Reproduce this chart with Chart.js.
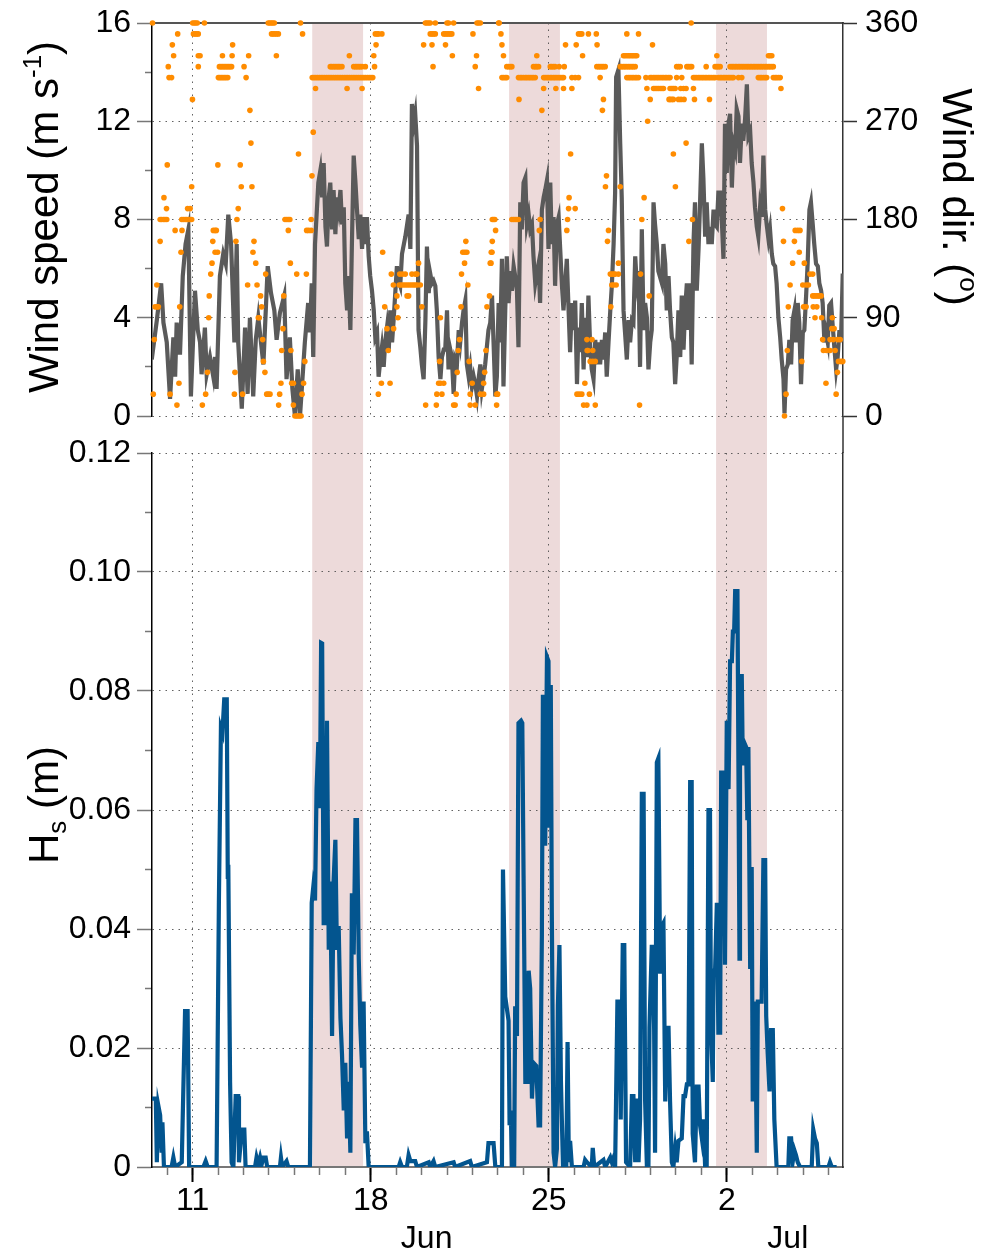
<!DOCTYPE html>
<html>
<head>
<meta charset="utf-8">
<script src="https://cdn.jsdelivr.net/npm/chart.js@4.4.1/dist/chart.umd.min.js"></script>
<style>
  body { margin: 0; background: #fff; }
  #wrap { position: relative; width: 994px; height: 1253px; }
  canvas { position: absolute; left: 0; }
</style>
</head>
<body>
<div id="wrap">
  <canvas id="windChart" width="994" height="440" style="top:0;width:994px;height:440px"></canvas>
  <canvas id="waveChart" width="994" height="813" style="top:440px;width:994px;height:813px"></canvas>
</div>
<script>
// time axis: day of June (32 = 2 Jul)
const dateTicks = [11, 18, 25, 32];
const dateLabels = ['11', '18', '25', '2'];
const monthLabels = ['Jun', 'Jul'];
const monthAt = [20.2, 34.4];
const dayMinor = [10, 11, 12, 13, 14, 15, 16, 17, 18, 19, 20, 21, 22, 23, 24, 25, 26, 27, 28, 29, 30, 31, 32, 33, 34, 35, 36];

const speedTicks = [0, 4, 8, 12, 16];
const speedMinor = [2, 6, 10, 14];
const dirTicks = [0, 90, 180, 270, 360];
const hsTicks = [0, 0.02, 0.04, 0.06, 0.08, 0.1, 0.12];
const hsMinor = [0.01, 0.03, 0.05, 0.07, 0.09, 0.11];

// shaded storm periods [start, end]
const storms = [[15.70, 17.70], [23.44, 25.44], [31.58, 33.58]];

// wind speed (m/s): [day, value]
const windSpeed = [
  [9.39,2.3],[9.59,3.9],[9.76,5.4],[9.85,3.8],[9.98,3.0],[10.11,0.7],[10.24,3.2],[10.31,1.6],[10.37,3.8],[10.50,2.5],
  [10.61,5.7],[10.72,7.0],[10.83,7.6],[10.93,0.8],[11.09,5.1],[11.20,3.5],[11.29,3.0],[11.35,1.7],[11.48,3.6],[11.55,1.7],
  [11.68,2.4],[11.81,1.6],[11.88,2.4],[11.94,1.1],[12.07,5.7],[12.20,6.6],[12.30,6.2],[12.40,8.2],[12.51,7.0],[12.64,3.0],
  [12.73,7.0],[12.79,3.0],[12.93,0.3],[13.06,3.6],[13.16,0.9],[13.25,4.0],[13.38,0.8],[13.48,3.1],[13.58,4.0],[13.78,2.1],
  [13.95,6.1],[14.08,5.0],[14.21,4.3],[14.30,3.1],[14.43,4.2],[14.60,4.9],[14.69,1.5],[14.82,3.2],[14.92,1.1],[15.02,0.0],
  [15.13,1.9],[15.22,0.0],[15.41,3.0],[15.54,4.6],[15.61,3.4],[15.68,5.4],[15.74,2.4],[15.81,7.0],[15.94,9.5],
  [16.02,10.0],[16.09,8.9],[16.15,10.3],[16.22,7.7],[16.28,6.9],[16.35,8.9],[16.41,9.5],[16.48,7.6],[16.54,9.2],[16.61,7.4],
  [16.67,8.9],[16.74,8.4],[16.81,9.2],[16.87,7.8],[16.94,8.5],[17.00,5.4],[17.07,4.3],[17.13,5.7],[17.20,3.5],[17.26,7.0],
  [17.33,10.6],[17.40,9.5],[17.46,8.4],[17.53,7.2],[17.59,8.2],[17.66,6.8],[17.72,8.1],[17.79,7.0],[17.85,8.1],[17.92,6.5],
  [17.98,5.7],[18.05,5.1],[18.12,4.3],[18.18,3.2],[18.25,3.4],[18.31,1.6],[18.38,2.3],[18.44,2.8],[18.51,2.0],[18.57,3.0],
  [18.64,3.6],[18.71,2.7],[18.77,4.3],[18.84,3.0],[18.90,3.9],[19.03,6.1],[19.10,5.5],[19.16,5.3],[19.23,6.6],[19.36,7.3],
  [19.49,8.2],[19.56,6.8],[19.62,12.7],[19.69,11.9],[19.75,12.3],[19.82,11.0],[19.88,3.5],[19.95,2.8],[20.01,2.1],[20.08,1.5],
  [20.15,3.9],[20.21,6.9],[20.28,5.0],[20.34,5.8],[20.41,5.4],[20.47,5.5],[20.54,5.3],[20.60,4.3],[20.67,2.4],[20.74,1.5],
  [20.80,2.4],[20.87,2.7],[20.93,2.7],[21.00,4.3],[21.06,1.9],[21.13,2.7],[21.19,2.4],[21.26,0.9],[21.32,2.3],[21.39,2.1],
  [21.46,3.5],[21.52,3.0],[21.59,3.8],[21.65,4.3],[21.72,4.7],[21.78,2.1],[21.85,1.6],[21.91,2.0],[21.98,1.2],[22.05,1.6],
  [22.11,1.3],[22.18,0.8],[22.24,1.5],[22.31,2.1],[22.37,1.1],[22.44,1.6],[22.50,2.1],[22.63,3.5],[22.70,3.8],
  [22.77,4.9],[22.83,3.0],[22.90,0.8],[22.96,1.6],[23.03,4.6],[23.09,3.0],[23.16,6.4],[23.22,1.2],[23.29,4.3],[23.35,6.5],
  [23.42,4.6],[23.49,5.9],[23.55,5.1],[23.62,6.1],[23.68,5.7],[23.75,5.1],[23.81,2.8],[23.88,8.7],[23.94,7.6],[24.01,9.5],
  [24.08,9.7],[24.14,7.8],[24.21,8.2],[24.27,7.6],[24.34,7.8],[24.40,6.5],[24.47,5.4],[24.53,5.8],[24.60,6.2],[24.66,4.6],
  [24.73,8.4],[24.80,8.9],[24.86,9.2],[24.93,9.6],[24.99,6.8],[25.06,9.5],[25.12,7.0],[25.19,8.1],[25.25,5.3],[25.32,7.8],
  [25.39,8.1],[25.45,6.8],[25.52,5.3],[25.58,4.3],[25.71,6.4],[25.78,4.3],[25.84,2.6],[25.91,4.6],[25.97,3.5],[26.04,4.7],
  [26.11,1.3],[26.17,3.6],[26.24,2.6],[26.30,4.6],[26.37,1.9],[26.43,4.0],[26.50,2.4],[26.56,4.9],[26.63,2.8],[26.69,1.9],
  [26.76,1.5],[26.83,3.1],[26.89,2.1],[26.96,3.0],[27.02,2.1],[27.09,3.1],[27.15,2.3],[27.22,3.4],[27.28,1.6],[27.35,3.0],
  [27.42,4.3],[27.48,5.3],[27.55,7.0],[27.61,9.1],[27.65,13.8],[27.74,14.1],[27.81,11.1],[27.87,8.9],[27.94,4.3],[28.00,3.4],
  [28.07,2.3],[28.14,3.9],[28.20,3.0],[28.27,3.9],[28.33,3.8],[28.40,6.5],[28.46,5.4],[28.53,5.9],[28.59,2.0],[28.66,7.6],
  [28.73,3.5],[28.79,4.6],[28.86,4.0],[28.92,1.9],[28.99,3.0],[29.05,3.5],[29.12,8.7],[29.18,7.8],[29.25,7.0],[29.31,5.9],
  [29.45,5.4],[29.51,7.0],[29.58,6.2],[29.64,4.3],[29.71,5.7],[29.77,4.3],[29.84,3.2],[29.90,3.0],[29.97,1.3],[30.03,2.4],
  [30.10,4.3],[30.17,2.4],[30.23,4.9],[30.30,2.7],[30.36,4.3],[30.43,5.4],[30.49,3.5],[30.56,5.4],[30.62,2.1],[30.69,7.0],
  [30.75,8.7],[30.82,5.1],[30.89,6.8],[30.95,8.7],[31.02,11.1],[31.08,9.7],[31.15,7.3],[31.21,8.7],[31.28,7.0],[31.34,7.7],
  [31.41,7.0],[31.48,8.4],[31.54,7.8],[31.61,7.7],[31.67,9.1],[31.74,9.1],[31.80,8.1],[31.87,6.4],[31.93,11.9],[32.00,9.9],
  [32.07,11.9],[32.13,12.3],[32.20,9.3],[32.26,11.1],[32.33,10.8],[32.39,12.5],[32.46,12.2],[32.52,10.3],[32.59,11.9],[32.65,11.2],
  [32.72,12.1],[32.79,13.5],[32.85,11.4],[32.92,11.6],[32.98,10.3],[33.05,9.5],[33.11,8.5],[33.18,7.7],[33.24,7.3],[33.31,8.5],
  [33.37,8.1],[33.44,10.6],[33.51,8.4],[33.57,7.8],[33.64,7.2],[33.70,7.6],[33.77,6.6],[33.83,6.2],[33.90,6.1],[33.96,5.4],
  [34.03,4.0],[34.10,3.2],[34.16,2.3],[34.23,1.5],[34.27,0.1],[34.33,1.9],[34.40,2.1],[34.46,3.1],[34.53,2.1],[34.59,3.9],
  [34.66,4.3],[34.72,3.0],[34.79,4.6],[34.85,3.8],[34.92,1.3],[34.99,3.4],[35.05,3.5],[35.12,4.9],[35.18,6.2],[35.25,8.4],
  [35.31,8.7],[35.38,7.8],[35.44,7.0],[35.51,6.2],[35.58,6.1],[35.64,5.4],[35.71,5.1],[35.77,4.6],[35.84,3.0],[35.90,3.4],
  [35.97,3.0],[36.03,4.5],[36.10,4.6],[36.17,3.6],[36.23,2.8],[36.30,1.9],[36.36,2.4],[36.43,3.5],[36.49,3.0],[36.56,5.8]
];

// wind direction (deg): each row is one 10-degree bin and the days it was observed
const windDirRows = [
  [360, [9.42,11.00,11.06,11.12,11.18,11.46,13.97,14.03,14.09,14.15,14.21,15.24,20.15,20.21,20.28,20.34,20.54,21.00,21.06,21.26,22.18,22.24,22.31,23.03,23.05,30.60]],
  [350, [10.41,11.03,11.10,11.16,11.22,14.10,14.16,14.23,14.30,14.37,15.32,18.18,18.25,18.31,18.44,20.34,20.41,20.47,20.54,20.87,20.93,21.00,21.06,21.13,21.19,22.02,23.12,26.17,26.24,26.30,26.56,26.87,28.07,28.53]],
  [340, [10.20,12.57,18.21,20.08,20.41,20.94,23.16,25.66,26.08,26.90,29.08]],
  [330, [10.25,11.22,11.29,12.17,12.55,13.20,14.29,17.16,18.12,21.21,22.16,23.22,24.53,26.33,27.94,28.00,28.07,28.14,28.20,28.27,28.33,28.40,28.46,31.61,33.64,33.70,33.77]],
  [320, [10.04,11.22,12.05,12.11,12.17,12.23,12.29,12.35,12.41,12.47,12.53,13.02,16.41,16.47,16.54,16.60,16.67,16.73,16.79,16.87,17.33,17.40,17.46,17.53,17.59,17.66,17.79,18.15,20.45,22.11,
         23.35,23.42,23.49,23.55,24.40,24.47,24.53,24.60,25.06,25.12,25.19,25.25,25.41,25.61,26.89,26.96,27.02,27.09,27.15,27.22,27.81,27.87,27.94,28.00,28.07,28.14,28.20,28.27,28.33,28.40,
         30.03,30.10,30.17,30.43,30.49,30.56,30.62,31.19,31.54,31.61,31.67,31.74,32.13,32.20,32.26,32.33,32.39,32.46,32.52,32.59,32.65,32.72,32.79,32.85,32.92,32.98,33.05,33.11,33.18,33.24,33.31,33.37,33.44,33.51,33.57,33.64,33.70,33.77,33.83]],
  [310, [10.07,10.17,12.01,12.07,12.13,12.19,12.25,12.31,12.38,13.10,
         15.70,15.77,15.84,15.91,15.98,16.05,16.12,16.19,16.26,16.33,16.40,16.47,16.54,16.61,16.68,16.75,16.82,16.89,16.96,17.03,17.10,17.17,17.24,17.31,17.38,17.45,17.52,17.59,17.66,17.73,17.80,17.87,17.94,18.01,18.08,
         23.16,23.22,23.29,23.35,23.81,23.88,23.94,24.01,24.08,24.14,24.21,24.27,24.34,24.40,24.47,24.80,24.86,24.93,24.99,25.06,25.12,25.19,25.25,25.32,25.39,25.45,25.52,25.58,25.91,26.04,26.17,27.02,
         28.07,28.14,28.20,28.27,28.33,28.40,28.46,28.53,28.82,28.99,29.05,29.12,29.18,29.25,29.31,29.38,29.45,29.51,29.58,29.64,29.71,29.77,30.03,30.23,
         30.69,30.75,30.82,30.89,30.95,31.02,31.08,31.15,31.21,31.28,31.34,31.41,31.48,31.54,31.67,31.74,31.80,31.87,31.93,32.00,32.07,32.13,32.20,32.26,32.46,32.59,33.24,33.31,33.37,33.44,33.51,33.57,33.83,33.90,33.96,34.03,34.10]],
  [300, [15.83,17.07,17.66,22.24,24.80,25.28,25.58,25.91,28.86,29.12,29.18,29.25,29.31,29.38,29.45,29.51,29.77,29.84,29.90,29.97,30.19,30.30,30.40,30.69,34.13]],
  [290, [10.99,23.83,27.15,28.99,29.73,29.77,29.84,29.90,30.10,30.20,30.32,30.73,31.32]],
  [280, [13.25,24.73,27.11]],
  [270, [28.89]],
  [260, [15.74]],
  [250, [13.29,30.40]],
  [240, [15.16,25.86,29.90]],
  [230, [10.00,11.99,12.87]],
  [220, [15.69,27.27]],
  [210, [10.96,12.91,13.33,27.23,27.81,29.98]],
  [200, [9.87,25.80,28.75]],
  [190, [9.97,10.80,10.90,12.79,25.78,26.04,34.19]],
  [180, [9.72,9.78,9.85,9.91,9.98,10.57,10.63,10.70,10.76,10.83,10.90,10.96,12.74,14.63,14.70,14.76,14.82,15.66,22.78,22.83,22.88,23.55,23.62,23.68,23.75,23.81,24.66,25.74,28.66,30.65]],
  [170, [10.31,10.58,11.81,11.88,11.93,14.76,15.48,15.56,15.66,22.91,24.63,25.71,27.35,34.69,34.79,34.88]],
  [160, [9.72,11.79,12.70,13.41,21.74,22.78,27.31,30.51,34.23,34.66]],
  [150, [10.54,11.88,11.98,13.37,18.47,21.62,21.70,21.78,22.74,22.77,34.85]],
  [140, [11.76,13.48,14.84,19.88,21.69,22.70,22.73,27.74,34.59,35.05]],
  [130, [11.71,13.87,15.09,15.47,18.81,19.14,19.25,19.36,19.62,19.75,19.82,21.57,27.42,27.48,27.55,27.61,27.74,28.61,35.27,35.38]],
  [120, [9.59,13.16,13.53,18.89,19.12,19.20,19.28,19.36,19.44,19.52,19.60,19.68,19.75,19.83,19.95,21.82,27.48,27.55,27.65,34.49,34.99,35.12,35.21]],
  [110, [11.65,13.67,14.58,19.03,19.43,19.49,22.67,28.95,35.38,35.44,35.51,35.58,35.64,35.71]],
  [100, [9.52,9.59,9.65,10.49,13.71,18.55,19.03,20.01,21.55,22.57,27.44,34.42,35.02,35.12,35.40,35.54]],
  [90,  [11.63,13.58,13.62,19.07,20.74,35.47,35.73,36.15]],
  [80,  [14.55,18.64,18.90,36.13,36.22]],
  [70,  [9.49,13.75,21.49,26.50,26.70,35.77,36.06,36.19,36.36,36.46]],
  [60,  [14.50,14.86,18.69,21.44,22.53,26.51,26.54,26.73,34.38,35.80,35.92,36.06,36.26]],
  [50,  [13.78,15.41,20.71,21.87,26.63,26.73,26.83,34.95,36.39,36.49,36.56]],
  [40,  [11.58,12.66,13.84,21.40,22.48,36.35]],
  [30,  [10.46,14.47,14.89,14.96,15.36,18.42,18.76,20.67,20.74,20.87,21.99,22.44,26.42,35.90]],
  [20,  [9.45,10.11,11.51,12.64,12.96,13.91,13.97,14.04,14.42,15.30,18.30,20.60,20.80,21.36,21.91,22.31,22.44,22.96,22.99,26.11,26.20,26.30,26.60,34.33,36.30]],
  [10,  [10.38,11.38,14.38,14.96,20.16,20.58,21.26,21.32,21.91,22.11,22.95,26.37,26.50,26.83,28.57]],
  [0,   [15.02,15.08,15.14,15.20,15.26,34.27]]
];

// significant wave height Hs (m): [day, value]
const waveHs = [
  [9.39,0.0115],[9.55,0.0115],[9.59,0.0008],[9.65,0.0103],[9.72,0.0087],[9.78,0.0024],[9.81,0.0075],[9.87,0],[10.17,0],[10.24,0.0016],
  [10.31,0],[10.57,0.0008],[10.63,0.0127],[10.70,0.0262],[10.80,0.0262],[10.86,0],[11.42,0],[11.51,0.001],[11.59,0],[11.94,0],
  [12.03,0.0444],[12.11,0.0738],[12.17,0.073],[12.24,0.0786],[12.34,0.0786],[12.38,0.0484],[12.40,0.0508],[12.47,0.0143],[12.53,0.0008],[12.60,0],
  [12.69,0.0119],[12.79,0.0119],[12.82,0.0008],[12.93,0.0063],[13.03,0.0063],[13.08,0],[13.45,0],[13.51,0.0016],[13.58,0.0004],[13.65,0.0016],
  [13.71,0.0004],[13.78,0.0016],[13.87,0.0016],[13.93,0],[14.43,0],[14.47,0.0016],[14.52,0],[14.69,0.001],[14.76,0],[15.61,0],
  [15.68,0.0444],[15.74,0.047],[15.81,0.0448],[15.87,0.0635],[15.94,0.0714],[16.00,0.0603],[16.05,0.0881],[16.09,0.088],[16.15,0.041],[16.22,0.041],
  [16.28,0.075],[16.35,0.0365],[16.41,0.048],[16.48,0.022],[16.54,0.048],[16.61,0.055],[16.67,0.0365],[16.74,0.0405],[16.81,0.025],[16.87,0.019],
  [16.94,0.0095],[17.00,0.0175],[17.07,0.0048],[17.13,0.0143],[17.20,0.0024],[17.26,0.046],[17.33,0.0357],[17.40,0.0583],[17.46,0.0583],[17.53,0.035],
  [17.59,0.0238],[17.66,0.0167],[17.72,0.0278],[17.79,0.004],[17.85,0.006],[17.92,0],[19.10,0],[19.16,0.0008],[19.23,0],[19.42,0],
  [19.49,0.002],[19.56,0.001],[19.75,0.001],[19.82,0],[20.28,0.0008],[20.34,0],[20.47,0.001],[20.54,0],[21.26,0.0008],[21.32,0],
  [21.91,0.001],[21.98,0],[22.57,0.0008],[22.63,0.004],[22.83,0.004],[22.90,0],[23.16,0],[23.20,0.05],[23.29,0.0286],[23.42,0.0246],
  [23.46,0.007],[23.51,0.0095],[23.55,0],[23.64,0],[23.68,0.027],[23.75,0.022],[23.81,0.0746],[23.91,0.075],[23.96,0.0746],[24.01,0.049],
  [24.08,0.0143],[24.17,0.0143],[24.21,0.033],[24.27,0.030],[24.34,0.0115],[24.40,0.0175],[24.51,0.017],[24.60,0.007],[24.66,0.007],[24.73,0.039],
  [24.77,0.079],[24.83,0.079],[24.86,0.054],[24.93,0.0857],[24.99,0.085],[25.03,0.057],[25.08,0.081],[25.12,0.043],[25.19,0.0024],[25.25,0],
  [25.32,0.003],[25.36,0.027],[25.42,0.0373],[25.48,0.0143],[25.56,0],[25.69,0],[25.74,0.021],[25.79,0.0008],[25.84,0.0044],[25.91,0],
  [26.37,0],[26.43,0.0012],[26.50,0.0008],[26.69,0],[26.73,0.0032],[26.79,0],[27.15,0.0012],[27.22,0],[27.42,0.0016],[27.48,0.0008],
  [27.55,0.0016],[27.61,0],[27.70,0.0278],[27.78,0.0278],[27.83,0.008],[27.91,0.0373],[27.97,0.0373],[28.04,0.0008],[28.20,0],[28.27,0.0119],
  [28.33,0.0119],[28.40,0.0008],[28.46,0.0115],[28.53,0.0008],[28.59,0.008],[28.66,0.0627],[28.73,0.0627],[28.79,0.011],[28.86,0],[28.92,0],
  [28.96,0.0234],[29.05,0.037],[29.12,0.037],[29.18,0.0024],[29.25,0.068],[29.31,0.0687],[29.38,0.0325],[29.45,0.0405],[29.51,0.041],[29.58,0.011],
  [29.64,0.0234],[29.71,0.0234],[29.77,0.011],[29.84,0.0008],[29.90,0],[29.97,0.003],[30.03,0.0008],[30.10,0.0044],[30.23,0.0048],[30.30,0.0119],
  [30.36,0.0119],[30.43,0.0139],[30.49,0.0139],[30.56,0.0647],[30.62,0.0647],[30.66,0.0056],[30.75,0.0008],[30.82,0.0135],[30.89,0.0135],[30.95,0.007],
  [31.02,0.0048],[31.08,0.008],[31.15,0],[31.21,0],[31.28,0.06],[31.34,0.06],[31.38,0.023],[31.45,0.0143],[31.48,0.033],[31.54,0.033],
  [31.61,0.0444],[31.67,0.0226],[31.74,0.0226],[31.78,0.0663],[31.87,0.0663],[31.93,0.034],[32.00,0.075],[32.07,0.0635],[32.13,0.085],[32.20,0.085],
  [32.24,0.090],[32.29,0.090],[32.33,0.0968],[32.42,0.0968],[32.46,0.066],[32.50,0.035],[32.52,0.0825],[32.59,0.0825],[32.63,0.0675],[32.68,0.0714],
  [32.76,0.0706],[32.81,0.0583],[32.85,0.0706],[32.92,0.0333],[32.98,0.0504],[33.02,0.011],[33.11,0.0278],[33.18,0.0024],[33.22,0.0278],[33.37,0.0278],
  [33.44,0.0516],[33.51,0.0516],[33.55,0.0254],[33.61,0.019],[33.68,0.0127],[33.74,0.023],[33.81,0.023],[33.87,0.008],[33.96,0],[34.42,0],
  [34.46,0.0048],[34.53,0.0048],[34.59,0.0008],[34.66,0.0028],[34.72,0.002],[34.79,0.0008],[34.88,0],[35.34,0],[35.40,0.0063],[35.47,0.0048],
  [35.54,0.004],[35.60,0],[36.00,0],[36.06,0.0008],[36.13,0],[36.32,0]
];

const X_MIN = 9.4, X_MAX = 36.57;
const FONT = '"Liberation Sans", Arial, Helvetica, sans-serif';
const tickFont = { family: FONT, size: 32 };
const gridColor = 'rgba(70,70,70,0.85)';
const dotDash = [1.5, 5];

Chart.defaults.font.family = FONT;

function fixWidth(w) {
  return s => { s.width = w; s.paddingTop = 0; s.paddingBottom = 0; };
}
function fixHeight(h) {
  return s => { s.height = h; s.paddingLeft = 0; s.paddingRight = 0; };
}
function setTicks(vals) {
  return s => { s.ticks = vals.map(v => ({ value: v })); };
}

// pink shading for the storm periods, stretched across the gap between panels
const stormShade = {
  id: 'stormShade',
  beforeDraw(chart, args, opts) {
    const { ctx, chartArea } = chart;
    const x = chart.scales.x;
    const top = opts.edge === 'top' ? 0 : chartArea.top;
    const bottom = opts.edge === 'bottom' ? chart.height : chartArea.bottom;
    ctx.save();
    ctx.fillStyle = 'rgb(237,218,218)';
    storms.forEach(([a, b]) => {
      const x1 = x.getPixelForValue(a);
      const x2 = x.getPixelForValue(b);
      ctx.fillRect(x1, top, x2 - x1, bottom - top);
    });
    ctx.restore();
  }
};

// rotated axis title made of normal / superscript / subscript pieces
function drawTitle(ctx, x, y, angle, parts, size) {
  const small = Math.round(size * 0.62);
  ctx.save();
  ctx.translate(x, y);
  ctx.rotate(angle);
  ctx.fillStyle = '#000';
  ctx.textBaseline = 'alphabetic';
  ctx.textAlign = 'left';
  const widths = parts.map(([t, s]) => {
    ctx.font = (s ? small : size) + 'px ' + FONT;
    return ctx.measureText(t).width;
  });
  let cx = -widths.reduce((a, b) => a + b, 0) / 2;
  parts.forEach(([t, s], i) => {
    ctx.font = (s ? small : size) + 'px ' + FONT;
    const dy = s > 0 ? -size * 0.40 : (s < 0 ? size * 0.20 : 0);
    ctx.fillText(t, cx, dy);
    cx += widths[i];
  });
  ctx.restore();
}

const windDecor = {
  id: 'windDecor',
  afterDraw(chart) {
    const { ctx, chartArea } = chart;
    ctx.save();
    ctx.strokeStyle = '#333';
    ctx.lineWidth = 1.5;
    ctx.beginPath();
    ctx.moveTo(chartArea.right, chartArea.bottom);
    ctx.lineTo(chartArea.right, chart.height);
    ctx.stroke();
    ctx.restore();
    drawTitle(ctx, 58, 217, -Math.PI / 2, [['Wind speed (m s', 0], ['-1', 1], [')', 0]], 42);
    drawTitle(ctx, 943, 197, Math.PI / 2, [['Wind dir. (', 0], ['o', 1], [')', 0]], 42);
  }
};

const waveDecor = {
  id: 'waveDecor',
  afterDraw(chart) {
    const { ctx, chartArea } = chart;
    ctx.save();
    ctx.strokeStyle = '#333';
    ctx.lineWidth = 1.5;
    ctx.beginPath();
    ctx.moveTo(chartArea.right, 0);
    ctx.lineTo(chartArea.right, chartArea.top);
    ctx.stroke();
    ctx.fillStyle = '#000';
    ctx.font = '32px ' + FONT;
    ctx.textAlign = 'center';
    ctx.textBaseline = 'middle';
    monthLabels.forEach((m, i) => {
      ctx.fillText(m, chart.scales.x.getPixelForValue(monthAt[i]), 799);
    });
    ctx.restore();
    drawTitle(ctx, 58, 365, -Math.PI / 2, [['H', 0], ['s', -1], [' (m)', 0]], 42);
  }
};

const common = {
  responsive: false,
  animation: false,
  events: [],
  plugins: { legend: { display: false }, tooltip: { enabled: false } }
};

new Chart(document.getElementById('windChart'), {
  type: 'scatter',
  data: {
    datasets: [
      {
        label: 'Wind direction',
        data: windDirRows.flatMap(([deg, days]) => days.map(d => ({ x: d, y: deg }))),
        yAxisID: 'yDir',
        showLine: false,
        pointRadius: 2.8,
        pointBorderWidth: 0,
        pointBackgroundColor: '#ff8c00',
        clip: false
      },
      {
        label: 'Wind speed',
        data: windSpeed.map(([d, v]) => ({ x: d, y: v })),
        yAxisID: 'ySpeed',
        showLine: true,
        borderColor: '#5a5a5a',
        borderWidth: 4.2,
        pointRadius: 0
      }
    ]
  },
  options: {
    ...common,
    layout: { padding: { top: 23, left: 0, right: 0, bottom: 0 } },
    plugins: { ...common.plugins, stormShade: { edge: 'bottom' } },
    scales: {
      x: {
        type: 'linear', position: 'bottom', min: X_MIN, max: X_MAX,
        afterBuildTicks: setTicks(dateTicks), afterFit: fixHeight(24),
        ticks: { display: false },
        grid: { color: gridColor, lineWidth: 1, drawTicks: false },
        border: { display: false, dash: dotDash }
      },
      xTop: {
        type: 'linear', position: 'top', min: X_MIN, max: X_MAX,
        afterFit: fixHeight(0),
        ticks: { display: false },
        grid: { display: false },
        border: { display: true, color: '#555', width: 2 }
      },
      ySpeed: {
        type: 'linear', position: 'left', weight: 1, min: 0, max: 16,
        afterBuildTicks: setTicks(speedTicks), afterFit: fixWidth(152),
        ticks: { font: tickFont, color: '#000', padding: 6 },
        grid: { color: gridColor, lineWidth: 1, tickColor: '#777', tickLength: 15, tickWidth: 1.5 },
        border: { color: '#000', width: 1.5, dash: dotDash }
      },
      ySpeedMinor: {
        type: 'linear', position: 'left', weight: 0, min: 0, max: 16,
        afterBuildTicks: setTicks(speedMinor), afterFit: fixWidth(0),
        ticks: { display: false },
        grid: { drawOnChartArea: false, tickColor: '#777', tickLength: 7, tickWidth: 1.5 },
        border: { display: false }
      },
      yDir: {
        type: 'linear', position: 'right', min: 0, max: 360,
        afterBuildTicks: setTicks(dirTicks), afterFit: fixWidth(151),
        ticks: { font: tickFont, color: '#000', padding: 8 },
        grid: { drawOnChartArea: false, tickColor: '#333', tickLength: 14, tickWidth: 1.5 },
        border: { color: '#333', width: 1.5 }
      }
    }
  },
  plugins: [stormShade, windDecor]
});

new Chart(document.getElementById('waveChart'), {
  type: 'scatter',
  data: {
    datasets: [
      {
        label: 'Hs',
        data: waveHs.map(([d, v]) => ({ x: d, y: v })),
        yAxisID: 'yHs',
        showLine: true,
        borderColor: '#03558f',
        borderWidth: 4.2,
        pointRadius: 0
      }
    ]
  },
  options: {
    ...common,
    layout: { padding: { top: 13, left: 0, right: 0, bottom: 0 } },
    plugins: { ...common.plugins, stormShade: { edge: 'top' } },
    scales: {
      xMinor: {
        type: 'linear', position: 'bottom', weight: 0, min: X_MIN, max: X_MAX,
        afterBuildTicks: setTicks(dayMinor), afterFit: fixHeight(0),
        ticks: { display: false },
        grid: { drawOnChartArea: false, tickColor: '#777', tickLength: 8, tickWidth: 1.5 },
        border: { display: false }
      },
      x: {
        type: 'linear', position: 'bottom', weight: 1, min: X_MIN, max: X_MAX,
        afterBuildTicks: setTicks(dateTicks), afterFit: fixHeight(86),
        ticks: {
          font: tickFont, color: '#000', padding: 0, maxRotation: 0, autoSkip: false,
          callback: v => dateLabels[dateTicks.indexOf(v)]
        },
        grid: { color: gridColor, lineWidth: 1, tickColor: '#000', tickLength: 15, tickWidth: 2 },
        border: { color: '#777', width: 2, dash: dotDash }
      },
      yHs: {
        type: 'linear', position: 'left', weight: 1, min: 0, max: 0.12,
        afterBuildTicks: setTicks(hsTicks), afterFit: fixWidth(152),
        ticks: { font: tickFont, color: '#000', padding: 6, callback: v => (v === 0 ? '0' : v.toFixed(2)) },
        grid: { color: gridColor, lineWidth: 1, tickColor: '#777', tickLength: 15, tickWidth: 1.5 },
        border: { color: '#000', width: 1.5, dash: dotDash }
      },
      yHsMinor: {
        type: 'linear', position: 'left', weight: 0, min: 0, max: 0.12,
        afterBuildTicks: setTicks(hsMinor), afterFit: fixWidth(0),
        ticks: { display: false },
        grid: { drawOnChartArea: false, tickColor: '#777', tickLength: 7, tickWidth: 1.5 },
        border: { display: false }
      },
      yRight: {
        type: 'linear', position: 'right', min: 0, max: 1,
        afterFit: fixWidth(151),
        ticks: { display: false },
        grid: { display: false },
        border: { color: '#333', width: 1.5 }
      }
    }
  },
  plugins: [stormShade, waveDecor]
});
</script>
</body>
</html>
